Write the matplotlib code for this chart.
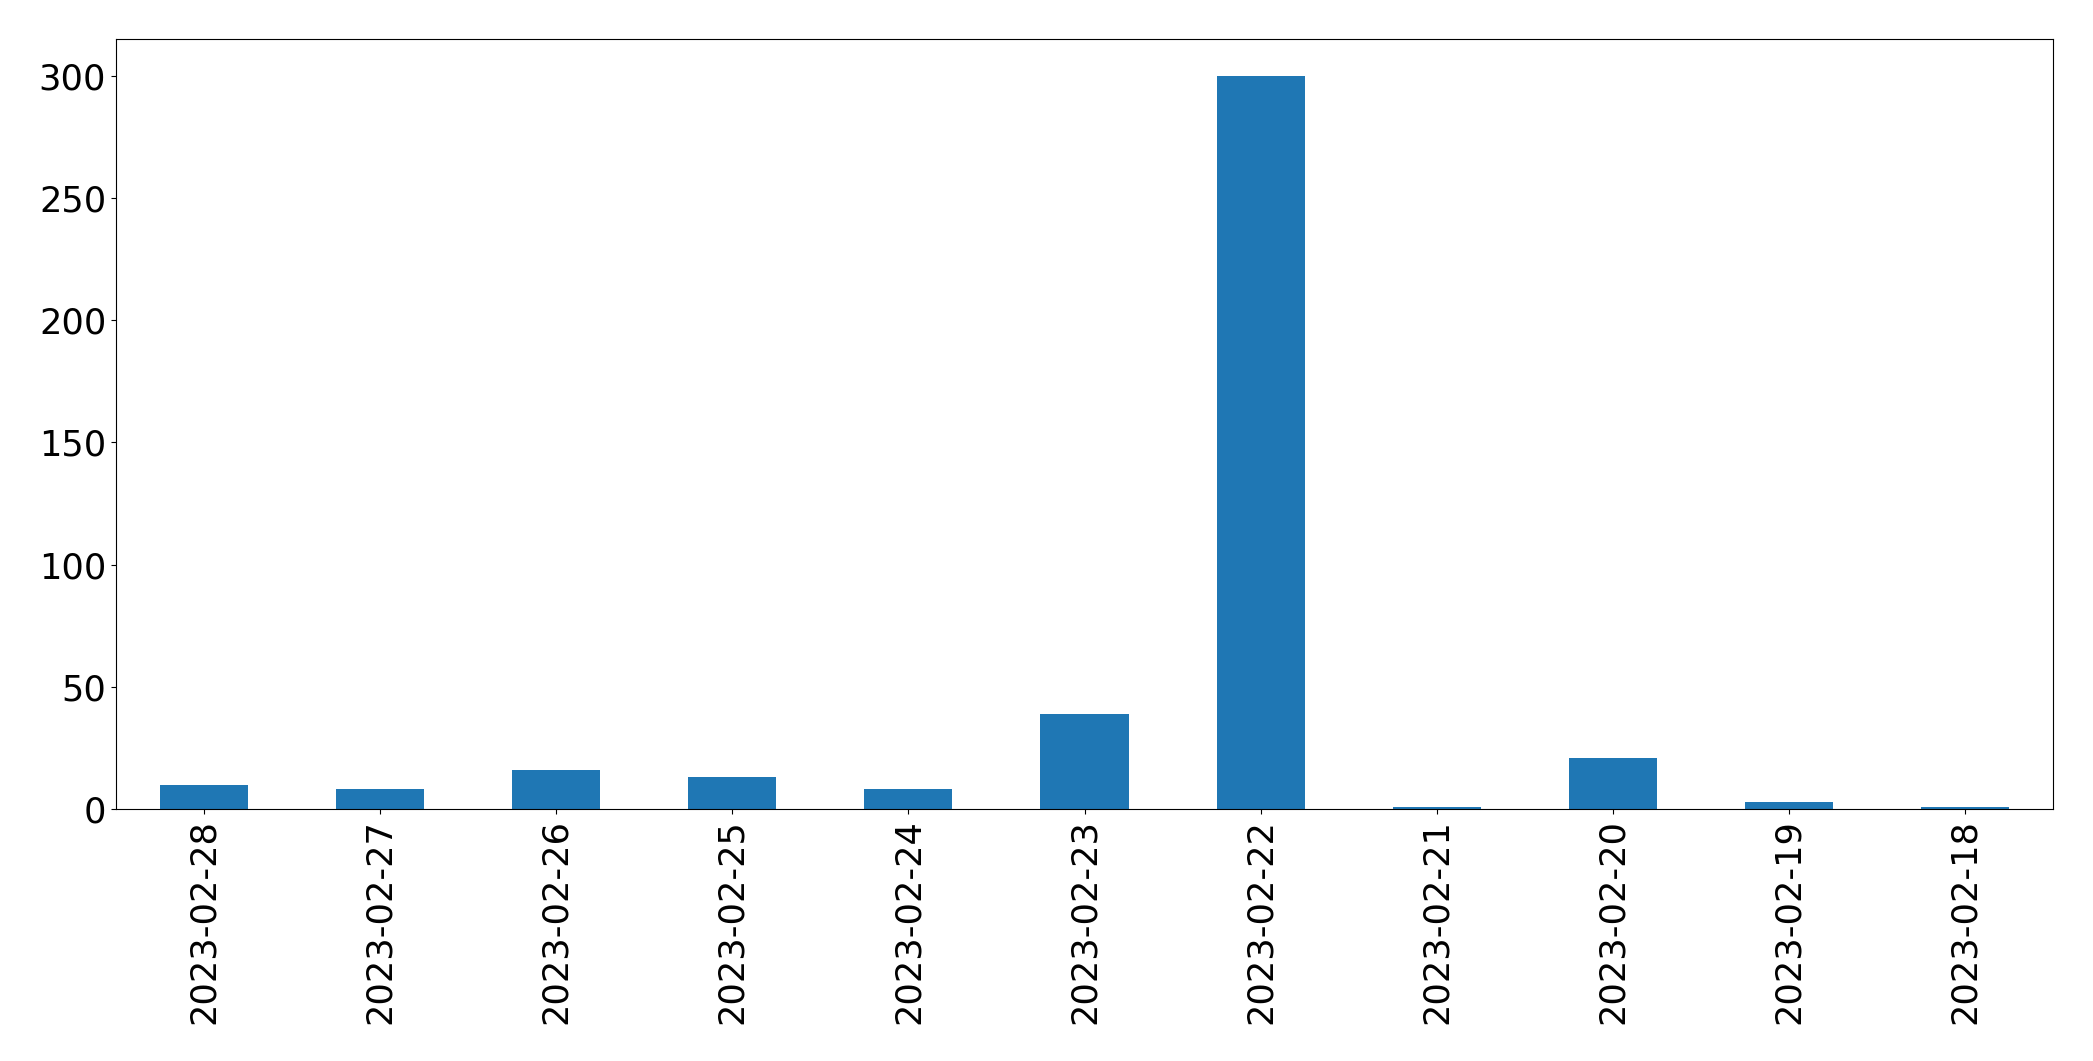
import matplotlib
matplotlib.use("Agg")
import matplotlib.pyplot as plt

dates = ["2023-02-28", "2023-02-27", "2023-02-26", "2023-02-25", "2023-02-24",
         "2023-02-23", "2023-02-22", "2023-02-21", "2023-02-20", "2023-02-19", "2023-02-18"]
counts = [10, 8, 16, 13, 8, 39, 300, 1, 21, 3, 1]

fig = plt.figure(figsize=(20.93, 10.61), dpi=100)
ax = fig.add_axes([116/2093, 1 - 809/1061, (2053-116)/2093, (809-39)/1061])
x = list(range(len(dates)))
ax.bar(x, counts, width=0.5, color="#1f77b4")
ax.set_xlim(-0.5, len(dates) - 0.5)
ax.set_ylim(0, 315)
ax.set_xticks(x)
ax.set_xticklabels(dates, rotation=90)
ax.set_yticks([0, 50, 100, 150, 200, 250, 300])
ax.tick_params(labelsize=25.3)
fig.savefig("out.png", dpi=100)
